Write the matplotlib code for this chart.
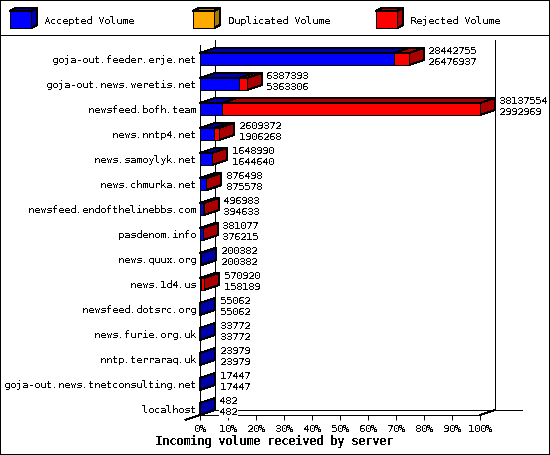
import matplotlib
matplotlib.use("Agg")
import matplotlib.pyplot as plt

servers = ["goja-out.feeder.erje.net", "goja-out.news.weretis.net", "newsfeed.bofh.team",
           "news.nntp4.net", "news.samoylyk.net", "news.chmurka.net",
           "newsfeed.endofthelinebbs.com", "pasdenom.info", "news.quux.org", "news.1d4.us",
           "newsfeed.dotsrc.org", "news.furie.org.uk", "nntp.terraraq.uk",
           "goja-out.news.tnetconsulting.net", "localhost"]
total = [28442755, 6387393, 38137554, 2609372, 1648990, 876498, 496983, 381077,
         200382, 570920, 55062, 33772, 23979, 17447, 482]
accepted = [26476937, 5363306, 2992969, 1906268, 1644640, 875578, 394633, 376215,
            200382, 158189, 55062, 33772, 23979, 17447, 482]
ticks = [0, 10, 20, 30, 40, 50, 60, 70, 80, 90, 100]

BLUE, DBLUE = "#0000ff", "#0000aa"
YELLOW, DYELLOW = "#ffaa00", "#aa7700"
RED, DRED = "#ff0000", "#aa0000"
LW = 0.72

plt.rcParams["font.family"] = "DejaVu Sans Mono"
plt.rcParams["font.size"] = 7.2
plt.rcParams["text.antialiased"] = False
plt.rcParams["text.hinting"] = "native"
plt.rcParams["text.hinting_factor"] = 1

fig = plt.figure(figsize=(5.5, 4.55), dpi=100)

# overlay in pixels for frame and legend
bg = fig.add_axes([0, 0, 1, 1])
bg.set_xlim(0, 550)
bg.set_ylim(455, 0)
bg.axis("off")

def line(a, xs, ys, **kw):
    a.plot(xs, ys, color="black", lw=LW, antialiased=False, solid_capstyle="butt",
           clip_on=False, **kw)

line(bg, [0, 549, 549, 0, 0], [0, 0, 454, 454, 0])
line(bg, [0, 550], [35, 35])

# back wall and floor
line(bg, [215, 215], [40, 410])
line(bg, [495, 495], [40, 410])
line(bg, [215, 522], [410, 410])
line(bg, [185, 200], [420, 415])
line(bg, [480, 495], [415, 410])

# legend
for x0, name, c, d in [(10, "Accepted Volume", BLUE, DBLUE),
                       (193, "Duplicated Volume", YELLOW, DYELLOW),
                       (376, "Rejected Volume", RED, DRED)]:
    bg.fill([x0, x0 + 6, x0 + 27, x0 + 21], [11, 8, 8, 11], fc=d, ec="black", lw=LW, antialiased=False)
    bg.fill([x0 + 21, x0 + 27, x0 + 27, x0 + 21], [11, 8, 25, 28], fc=d, ec="black", lw=LW, antialiased=False)
    bg.fill([x0, x0 + 21, x0 + 21, x0], [11, 11, 28, 28], fc=c, ec="black", lw=LW, antialiased=False)
    bg.text(x0 + 34.5, 20.5, name, va="center", ha="left")

bg.text(274, 442, "Incoming volume received by server", ha="center", va="center",
        fontsize=8.4, fontweight="bold")

# main axes: front plane, 200..480 px wide, 45..415 px tall
ax = fig.add_axes([200 / 550, (455 - 415) / 455, 280 / 550, 370 / 455])
ax.patch.set_alpha(0)
ax.set_xlim(0, 100)
ax.set_ylim(14.24, -0.56)
dx = 15 / 280 * 100
dy = 5 / 25
h = 0.48
vmax = max(total)

for i in range(len(servers)):
    a = accepted[i] / vmax * 100
    t = total[i] / vmax * 100
    top, bot = i - h / 2, i + h / 2
    kw = dict(ec="black", lw=LW, antialiased=False, clip_on=False)
    ax.fill([0, dx, a + dx, a], [top, top - dy, top - dy, top], fc=DBLUE, **kw)
    if t > a:
        ax.fill([a, a + dx, t + dx, t], [top, top - dy, top - dy, top], fc=DRED, **kw)
    ax.fill([t, t + dx, t + dx, t], [top, top - dy, bot - dy, bot],
            fc=DRED if t > a else DBLUE, **kw)
    ax.barh(i, a, height=h, color=BLUE, edgecolor="black", linewidth=LW, antialiased=False)
    if t > a:
        ax.barh(i, t - a, left=a, height=h, color=RED, edgecolor="black", linewidth=LW, antialiased=False)
    box = dict(fc="white", ec="none", pad=0.6)
    ax.annotate(str(total[i]), (t + dx, i), xytext=(3.2, 5.8), textcoords="offset points",
                va="center", ha="left", bbox=box, annotation_clip=False)
    ax.annotate(str(accepted[i]), (t + dx, i), xytext=(3.2, -2.2), textcoords="offset points",
                va="center", ha="left", bbox=box, annotation_clip=False)

ax.set_yticks(range(len(servers)))
ax.set_yticklabels(servers)
ax.set_xticks(ticks)
ax.set_xticklabels([str(v) + "%" for v in ticks])
ax.tick_params(axis="y", length=0, pad=3, labelsize=7.2)
ax.tick_params(axis="x", length=3.6, width=LW, pad=3, labelsize=7.2)
ax.spines["top"].set_visible(False)
ax.spines["right"].set_visible(False)
ax.spines["left"].set_linewidth(LW)
ax.spines["bottom"].set_linewidth(LW)

fig.savefig("out.png", dpi=100)
